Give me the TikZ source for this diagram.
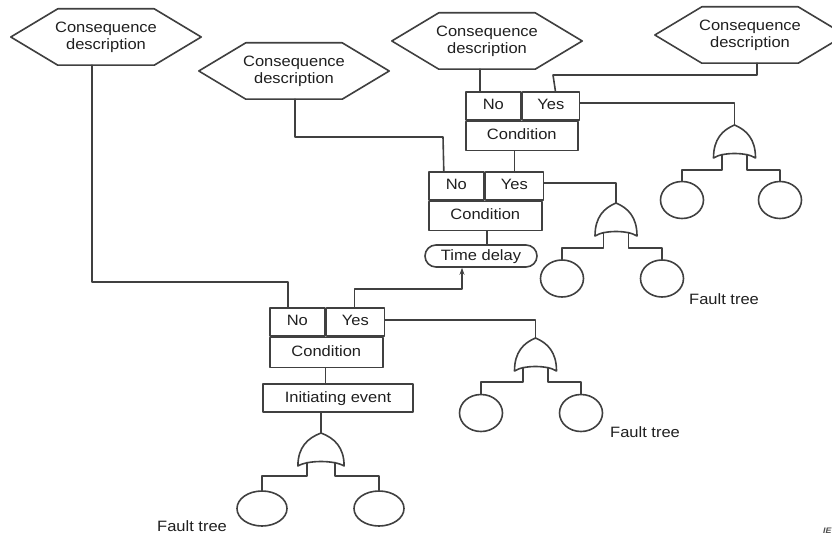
\documentclass[tikz,border=0pt]{standalone}
\usepackage{fontspec}
\setmainfont{Liberation Sans}[FakeStretch=1.1]
\usetikzlibrary{calc,arrows.meta,shapes.geometric}
\newcommand\conshex[2]{%
  \node[hextext] (#1) at (#2) {Consequence\\description};
  \draw[ln] (#1.west) -- ($(#1.north west)+(47,0)$) -- ($(#1.north east)+(-47,0)$)
    -- (#1.east) -- ($(#1.south east)+(-47,0)$) -- ($(#1.south west)+(47,0)$) -- cycle;}
\begin{document}
\begin{tikzpicture}[x=1pt,y=-1pt,
  ln/.style={draw=black!75, line width=1.6pt, line join=round, line cap=round},
  every node/.style={font=\fontsize{15}{17}\selectfont, text=black!88},
  hextext/.style={minimum width=190pt, minimum height=56pt, inner sep=0pt, align=center},
  cell/.style={ln, minimum height=28pt, inner sep=0pt, text height=11pt, text depth=3pt, anchor=north west},
  leaf/.style={ln, ellipse, minimum width=43pt, minimum height=37pt, inner sep=0pt},
  bigleaf/.style={ln, ellipse, minimum width=50pt, minimum height=35pt, inner sep=0pt},
  lbl/.style={anchor=base west, inner sep=0pt},
  orgate/.pic={
    \draw[ln] (0,0) .. controls (12,5) and (21,14) .. (21,33)
      .. controls (12,27) and (-12,27) .. (-21,33)
      .. controls (-21,14) and (-12,5) .. (0,0);
    \coordinate (-top) at (0,0);
    \coordinate (-l) at (-12.5,29.5);
    \coordinate (-r) at (12.5,29.5);
  }]
\useasboundingbox (0,0) rectangle (832,540);
\clip (0,0) rectangle (832,540);

% consequence hexagons
\conshex{h1}{106,37}
\conshex{h2}{294,71}
\conshex{h3}{487,41}
\conshex{h4}{750,35}

% top condition box
\node[cell, minimum width=55pt] (aNo) at (465,91) {No};
\node[cell, minimum width=57pt] (aYes) at (aNo.north east) {Yes};
\node[cell, minimum width=112pt, minimum height=29pt] (aCond) at (aNo.south west) {Condition};

% middle condition box
\node[cell, minimum width=55pt] (bNo) at (428,171) {No};
\node[cell, minimum width=58pt] (bYes) at (bNo.north east) {Yes};
\node[cell, minimum width=113pt, minimum height=29pt] (bCond) at (bNo.south west) {Condition};

% bottom condition box
\node[cell, minimum width=55pt] (cNo) at (269,307) {No};
\node[cell, minimum width=58pt] (cYes) at (cNo.north east) {Yes};
\node[cell, minimum width=113pt, minimum height=30pt] (cCond) at (cNo.south west) {Condition};

% time delay and initiating event
\node[ln, rounded corners=11pt, minimum width=112pt, minimum height=22pt, inner sep=0pt,
  text height=11pt, text depth=3pt] (td) at (481,256) {Time delay};
\node[ln, minimum width=150pt, minimum height=28pt, inner sep=0pt,
  text height=11pt, text depth=3pt] (init) at (338,398) {Initiating event};

% OR gates
\pic (g1) at (734.5,125) {orgate};
\pic (g2) at (616,203) {orgate};
\pic (g3) at (535.5,338) {orgate};
\pic[xscale=1.1] (g4) at (321,433) {orgate};

% basic events
\node[leaf] (c1a) at (682,200) {};
\node[leaf] (c1b) at (780,200) {};
\node[leaf] (c2a) at (562,278.5) {};
\node[leaf] (c2b) at (662,278.5) {};
\node[leaf] (c3a) at (481,413) {};
\node[leaf] (c3b) at (581,413) {};
\node[bigleaf] (c4a) at (262,508.5) {};
\node[bigleaf] (c4b) at (379,508.5) {};

% labels
\node[lbl] (ft1) at (689,304) {Fault tree};
\node[lbl] (ft2) at (610,437) {Fault tree};
\node[lbl] (ft3) at (157,531) {Fault tree};
\node[anchor=base west, inner sep=0pt, font=\fontsize{8}{9}\selectfont\itshape\bfseries, text=black!70] (mark) at (823,533) {IEC};

% connectors from consequences
\draw[ln] ([xshift=-14pt]h1.south) |- (288,282) -- (288,307);
\draw[ln] ([xshift=1pt]h2.south) |- (443,137) -- ([xshift=-12.5pt]bNo.north);
\draw[ln] ([xshift=-7pt]h3.south) -- ([xshift=-7pt]h3.south |- aNo.north);
\draw[ln] ([xshift=7pt]h4.south) |- (553,75) -- ([xshift=4.5pt]aYes.north);

% condition chain
\draw[ln] (aCond.south -| bYes.north) -- (bYes.north);
\draw[ln] ([xshift=1.5pt]bCond.south) -- ([xshift=1.5pt]bCond.south |- td.north);
\draw[ln, -{Stealth[length=7pt,width=5pt]}] ([xshift=-1pt]cYes.north) |- (462,289) -- ([xshift=-19pt]td.south);
\draw[ln] (cCond.south -| cNo.east) -- (init.north -| cNo.east);
\draw[ln] (init.south -| g4-top) -- (g4-top);

% yes branches to gates
\draw[ln] ([yshift=3pt]aYes.east) -| (g1-top);
\draw[ln] ([yshift=3pt]bYes.east) -| (g2-top);
\draw[ln] ([yshift=2pt]cYes.east) -| (g3-top);

% gate legs
\draw[ln] (g1-l) -- ++(0,15.5) -| (c1a.north);
\draw[ln] (g1-r) -- ++(0,15.5) -| (c1b.north);
\draw[ln] (g2-l) -- ++(0,15.5) -| (c2a.north);
\draw[ln] (g2-r) -- ++(0,15.5) -| (c2b.north);
\draw[ln] (g3-l) -- ++(0,14.5) -| (c3a.north);
\draw[ln] (g3-r) -- ++(0,14.5) -| (c3b.north);
\draw[ln] (g4-l) -- ++(0,13.5) -| (c4a.north);
\draw[ln] (g4-r) -- ++(0,13.5) -| (c4b.north);
\end{tikzpicture}
\end{document}
